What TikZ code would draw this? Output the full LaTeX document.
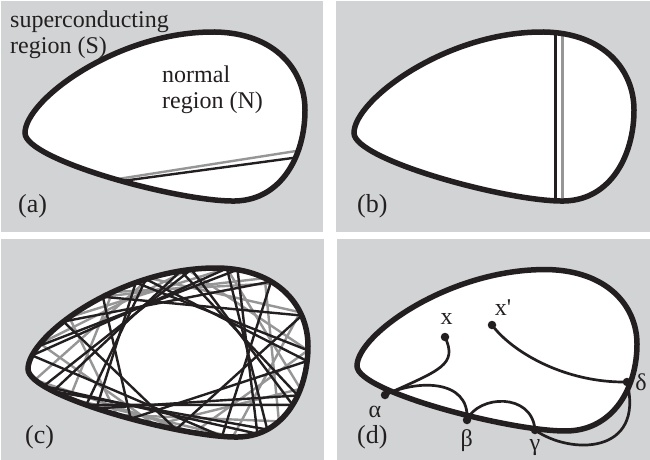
\documentclass[tikz,border=0pt]{standalone}
\usepackage{fontspec}
\setmainfont{Liberation Serif}
\usetikzlibrary{decorations.markings}
\definecolor{panelgray}{RGB}{209,211,212}
\definecolor{ink}{RGB}{35,31,32}
\definecolor{raygray}{RGB}{150,150,150}
\newcommand\eggpath{(25,133) .. controls (25,100) and (118,31) .. (215,32) .. controls (275,33) and (305,70) .. (305,110) .. controls (305,155) and (282,200) .. (235,201) .. controls (180,202) and (25,160) .. (25,133) -- cycle}
\begin{document}
\begin{tikzpicture}[x=1pt,y=-1pt,
  panel/.style={fill=panelgray},
  border/.style={draw=ink,line width=5.5pt},
  inside/.style={fill=white},
  blackray/.style={draw=ink,line width=2.4pt},
  grayray/.style={draw=raygray,line width=2.4pt},
  thinpath/.style={draw=ink,line width=2.7pt},
  dot/.style={circle,fill=ink,inner sep=0pt,minimum size=8.5pt},
  txt/.style={font=\fontsize{24}{27}\selectfont,inner sep=0pt,text=ink},
  lbl/.style={font=\fontsize{26}{28}\selectfont,inner sep=0pt,text=ink},
]
\useasboundingbox (0,0) rectangle (650,460);
\fill[white] (0,0) rectangle (650,460);
% panels
\path[panel] (1,1) rectangle (323,232);
\path[panel] (336,1) rectangle (650,232);
\path[panel] (1,239) rectangle (324,460);
\path[panel] (337,239) rectangle (650,460);

% ---------- (a)
\begin{scope}
  \path[inside] \eggpath;
  \begin{scope}
    \clip \eggpath;
    \coordinate (ga1) at (100,181.8);
    \coordinate (ga2) at (300,150.4);
    \coordinate (ba1) at (100,184.0);
    \coordinate (ba2) at (300,157.0);
    \draw[grayray] (ga1) -- (ga2);
    \draw[blackray] (ba1) -- (ba2);
  \end{scope}
  \path[border] \eggpath;
\end{scope}
\node[txt,anchor=base west] (sc1) at (10,28) {superconducting};
\node[txt,anchor=base west] (sc2) at (10,54) {region (S)};
\node[txt,anchor=base west] (nr1) at (162,82) {normal};
\node[txt,anchor=base west] (nr2) at (162,108) {region (N)};
\node[lbl,anchor=base west] (la) at (18,212) {(a)};

% ---------- (b)
\begin{scope}[shift={(329,0)}]
  \path[inside] \eggpath;
  \begin{scope}
    \clip \eggpath;
    \coordinate (bb1) at (226.5,0);
    \coordinate (bb2) at (226.5,230);
    \coordinate (gb1) at (233.5,0);
    \coordinate (gb2) at (233.5,230);
    \draw[blackray] (bb1) -- (bb2);
    \draw[grayray] (gb1) -- (gb2);
  \end{scope}
  \path[border] \eggpath;
\end{scope}
\node[lbl,anchor=base west] (lb) at (357,212) {(b)};

% ---------- (c)
\begin{scope}[shift={(3,236)}]
  \path[inside] \eggpath;
  \path[postaction={decorate},decoration={markings,
     mark=between positions 0 and 0.999 step 0.005 with
     {\coordinate (c\pgfkeysvalueof{/pgf/decoration/mark info/sequence number});}}] \eggpath;
\end{scope}
\foreach \k in {0,...,17} {
  \pgfmathtruncatemacro\ia{mod(30+\k*47,199)+1}
  \pgfmathtruncatemacro\ib{mod(30+\k*47+47,199)+1}
  \draw[grayray] (c\ia) -- (c\ib);
}
\foreach \k in {0,...,23} {
  \pgfmathtruncatemacro\ia{mod(7+\k*62,199)+1}
  \pgfmathtruncatemacro\ib{mod(7+\k*62+62,199)+1}
  \draw[blackray] (c\ia) -- (c\ib);
}
\begin{scope}[shift={(3,236)}]
  \path[border] \eggpath;
\end{scope}
\node[lbl,anchor=base west] (lc) at (25,443) {(c)};

% ---------- (d)
\begin{scope}[shift={(332,239)},yscale=0.955]
  \path[inside] \eggpath;
  \path[border] \eggpath;
\end{scope}
\node[dot] (xd) at (445,337) {};
\node[dot] (xp) at (492,325) {};
\node[dot] (al) at (385,395) {};
\node[dot] (be) at (467,420) {};
\node[dot] (ga) at (535,430) {};
\node[dot] (de) at (627,382) {};
\draw[thinpath] (xd.center) .. controls (458,365) and (440,370) .. (al.center);
\draw[thinpath] (al.center) .. controls (415,380) and (470,378) .. (be.center);
\draw[thinpath] (be.center) .. controls (478,395) and (532,392) .. (ga.center);
\draw[thinpath] (ga.center) .. controls (570,455) and (645,455) .. (de.center);
\draw[thinpath] (xp.center) .. controls (512,352) and (565,383) .. (de.center);
\node[txt] (lx) at (446.7,319) {x};
\node[txt] (lxp) at (503,308) {x\textquotesingle};
\node[txt] (lal) at (375,411.7) {α};
\node[txt] (lbe) at (466.7,440.7) {β};
\node[txt] (lga) at (535,448) {γ};
\node[txt] (lde) at (641,382) {δ};
\node[lbl,anchor=base west] (ld) at (357,443) {(d)};
\end{tikzpicture}
\end{document}
